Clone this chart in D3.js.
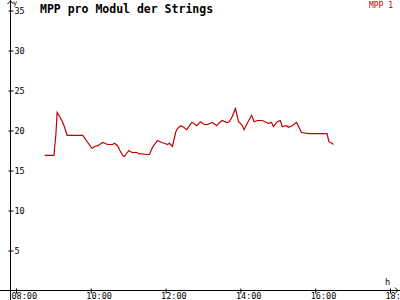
<!DOCTYPE html>
<html>
<head>
<meta charset="utf-8">
<script src="https://cdn.jsdelivr.net/npm/d3@7"></script>
<style>
  body { margin: 0; background: #fff; }
  svg { display: block; }
  text { font-family: "DejaVu Sans Mono", "Liberation Mono", monospace; }
</style>
</head>
<body>
<svg id="chart" width="400" height="300"></svg>
<script>
// readings of MPP 1 (time of day, value)
var times = ["08:46", "09:01", "09:02", "09:04", "09:06", "09:10", "09:15", "09:18", "09:22", "09:47",
    "10:02", "10:06", "10:11", "10:19", "10:27", "10:35", "10:38", "10:43", "10:46", "10:51",
    "10:54", "11:01", "11:06", "11:14", "11:17", "11:30", "11:34", "11:39", "11:47", "11:54",
    "11:58", "12:03", "12:06", "12:11", "12:16", "12:19", "12:24", "12:29", "12:34", "12:42",
    "12:45", "12:50", "12:56", "13:02", "13:07", "13:15", "13:22", "13:28", "13:31", "13:38",
    "13:42", "13:47", "13:52", "13:57", "14:02", "14:06", "14:11", "14:18", "14:22", "14:27",
    "14:35", "14:42", "14:45", "14:50", "14:53", "14:59", "15:04", "15:07", "15:14", "15:17",
    "15:23", "15:30", "15:38", "15:50", "16:19", "16:22", "16:27", "16:29"];
var values = [16.9, 16.9, 17.9, 19.5, 22.25, 21.75, 21.0, 20.4, 19.4, 19.4,
    17.75, 18.0, 18.1, 18.5, 18.25, 18.25, 18.4, 18.1, 17.6, 16.9,
    16.75, 17.5, 17.25, 17.25, 17.1, 17.0, 17.0, 17.9, 18.75, 18.5,
    18.4, 18.25, 18.4, 18.0, 19.75, 20.25, 20.6, 20.4, 20.1, 21.0,
    20.9, 20.6, 21.1, 20.75, 20.75, 21.0, 20.6, 21.1, 21.25, 21.0,
    21.1, 21.75, 22.75, 21.1, 20.75, 20.1, 20.9, 21.9, 21.1, 21.25,
    21.25, 21.0, 20.9, 21.0, 20.5, 21.1, 21.25, 20.5, 20.6, 20.4,
    20.6, 21.0, 19.75, 19.6, 19.6, 18.6, 18.4, 18.25];
var yTicks = [5, 10, 15, 20, 25, 30, 35];
var xTicks = ["08:00", "10:00", "12:00", "14:00", "16:00", "18:00"];
var title = "MPP pro Modul der Strings";
var seriesName = "MPP 1";

var lineColor = "#c00000";
var parseTime = d3.timeParse("%H:%M");

var svg = d3.select("#chart");
var xScale = d3.scaleTime()
    .domain([parseTime("08:00"), parseTime("18:00")])
    .range([16, 390]);
var yScale = d3.scaleLinear().domain([0, 35]).range([290.5, 10.5]);
var axisX = 10.5, axisY = 290.5;

// axis lines with arrows
svg.append("line")
    .attr("x1", axisX).attr("x2", axisX)
    .attr("y1", 0).attr("y2", 300)
    .attr("stroke", "#000");
svg.append("path")
    .attr("d", `M${axisX - 3},4 L${axisX},1 L${axisX + 3},4`)
    .attr("fill", "none").attr("stroke", "#000");
svg.append("line")
    .attr("x1", 0).attr("x2", 400)
    .attr("y1", axisY).attr("y2", axisY)
    .attr("stroke", "#000");
svg.append("path")
    .attr("d", `M395,${axisY - 3} L398,${axisY} L395,${axisY + 3}`)
    .attr("fill", "none").attr("stroke", "#000");

var yAxis = d3.axisRight(yScale)
    .tickValues(yTicks)
    .tickSize(3)
    .tickPadding(1);
var yAxisG = svg.append("g")
    .attr("transform", `translate(${axisX},0)`)
    .call(yAxis);
yAxisG.select(".domain").remove();
yAxisG.selectAll(".tick line").attr("x1", -2).attr("x2", 3);
yAxisG.selectAll(".tick text")
    .attr("font-family", null)
    .attr("font-size", 8.5)
    .attr("fill", "#000");

var xAxis = d3.axisBottom(xScale)
    .tickValues(xTicks.map(parseTime))
    .tickFormat(d3.timeFormat("%H:%M"))
    .tickSize(3);
var xAxisG = svg.append("g")
    .attr("transform", `translate(0,${axisY})`)
    .call(xAxis);
xAxisG.select(".domain").remove();
xAxisG.selectAll(".tick line").attr("y1", -2).attr("y2", 3);
xAxisG.selectAll(".tick text")
    .attr("font-family", null)
    .attr("font-size", 8.5)
    .attr("fill", "#000")
    .attr("text-anchor", "start")
    .attr("x", -5)
    .attr("y", 2);

// unit labels
svg.append("text")
    .attr("x", 13).attr("y", 5)
    .attr("font-size", 7)
    .text("y");
svg.append("text")
    .attr("x", 385).attr("y", 285)
    .attr("font-size", 8.5)
    .text("h");

svg.append("text")
    .attr("x", 40).attr("y", 13)
    .attr("font-size", 11.5)
    .attr("font-weight", "bold")
    .text(title);

svg.append("text")
    .attr("x", 393).attr("y", 8)
    .attr("font-size", 8)
    .attr("text-anchor", "end")
    .attr("fill", lineColor)
    .text(seriesName);

var line = d3.line()
    .x(function (d, i) { return xScale(parseTime(times[i])); })
    .y(function (d) { return yScale(d); });

svg.append("path")
    .datum(values)
    .attr("fill", "none")
    .attr("stroke", lineColor)
    .attr("stroke-width", 1.2)
    .attr("d", line);
</script>
</body>
</html>
